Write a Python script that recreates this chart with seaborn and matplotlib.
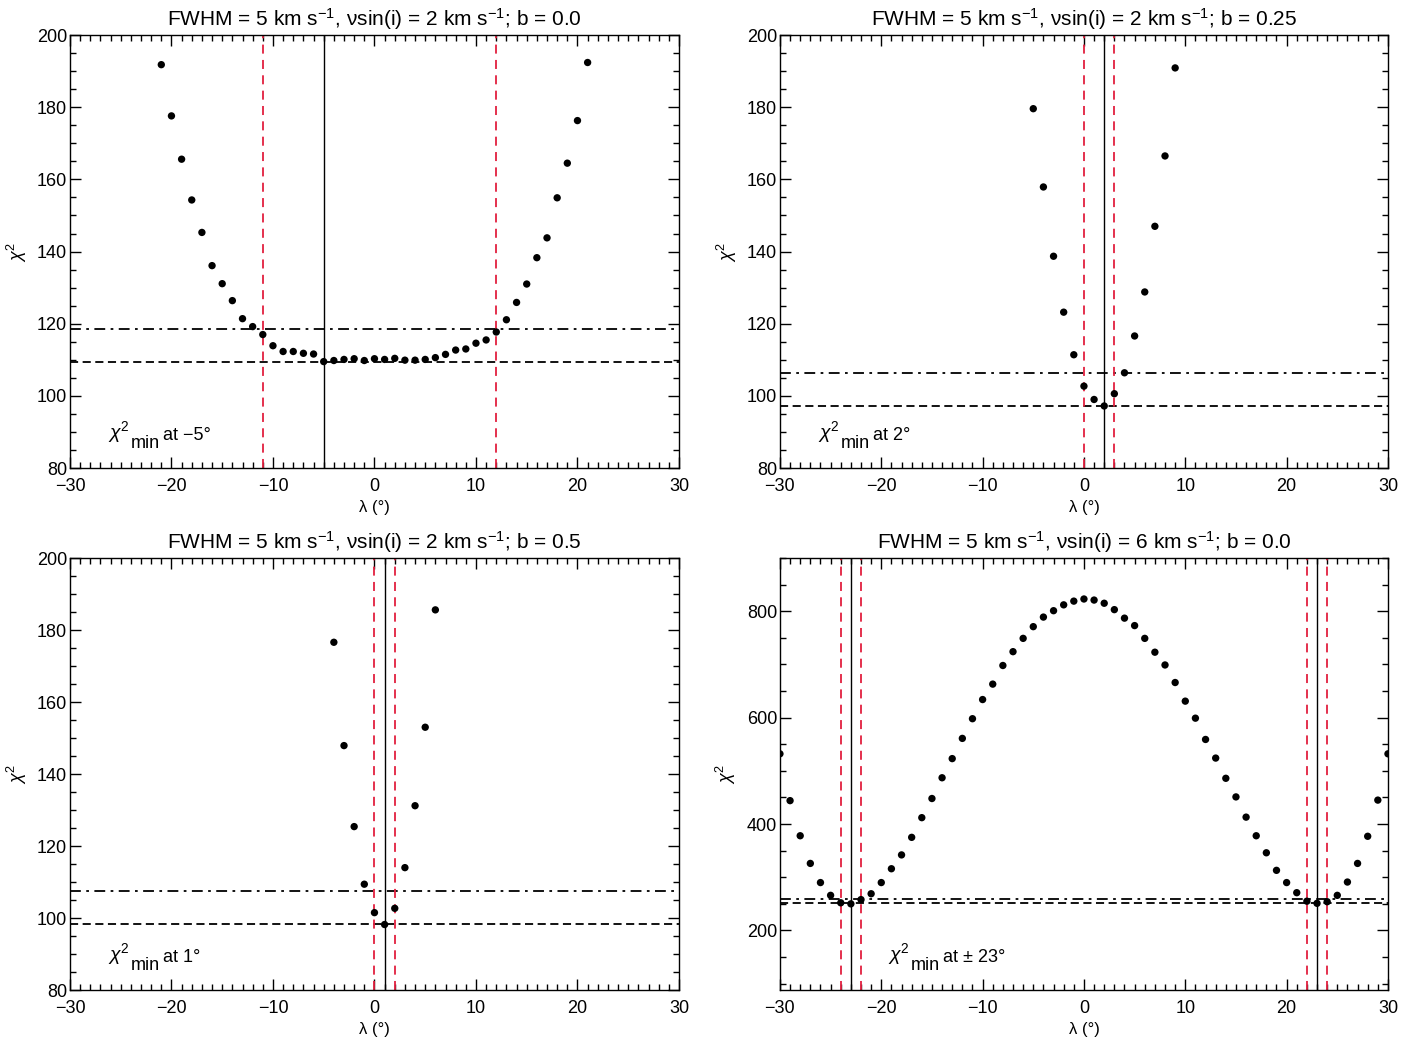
import numpy as np
import pandas as pd
import matplotlib
matplotlib.use('Agg')
import matplotlib.pyplot as plt
from matplotlib.ticker import MultipleLocator
import seaborn as sns

# lambda grids and chi^2 values
lam_a = list(range(-21, 22))
chi_a = [191.8, 177.6, 165.6, 154.3, 145.3, 136.1, 131.1, 126.4, 121.4, 119.2,
         117.0, 113.9, 112.3, 112.3, 111.8, 111.6, 109.5, 109.8, 110.1, 110.3,
         109.8, 110.3, 110.1, 110.4, 109.9, 109.9, 110.1, 110.6, 111.5, 112.7,
         113.0, 114.6, 115.5, 117.7, 121.1, 125.9, 131.0, 138.3, 143.8, 154.9,
         164.5, 176.3, 192.4]

lam_b = list(range(-5, 10))
chi_b = [179.6, 157.9, 138.7, 123.2, 111.4, 102.7, 99.0, 97.2, 100.6, 106.4,
         116.6, 128.8, 147.0, 166.5, 190.9]

lam_c = list(range(-4, 7))
chi_c = [176.6, 147.9, 125.4, 109.4, 101.5, 98.2, 102.7, 114.0, 131.2, 153.0, 185.6]

lam_d = list(range(-30, 31))
chi_d = [532, 444, 378, 326, 290, 266, 252, 250, 258, 269, 290, 316, 342, 375,
         412, 448, 487, 523, 561, 598, 634, 663, 698, 724, 749, 771, 789, 801,
         812, 819, 823, 821, 815, 803, 787, 773, 749, 723, 699, 666, 631, 599,
         559, 524, 486, 451, 413, 378, 346, 313, 290, 271, 255, 251, 254, 266,
         291, 326, 377, 445, 532]

titles = [
    r'FWHM = 5 km s$^{-1}$, νsin(i) = 2 km s$^{-1}$; b = 0.0',
    r'FWHM = 5 km s$^{-1}$, νsin(i) = 2 km s$^{-1}$; b = 0.25',
    r'FWHM = 5 km s$^{-1}$, νsin(i) = 2 km s$^{-1}$; b = 0.5',
    r'FWHM = 5 km s$^{-1}$, νsin(i) = 6 km s$^{-1}$; b = 0.0',
]
notes = ['at \u22125°', 'at 2°', 'at 1°', 'at \u00b1 23°']
best_lam = [[-5], [2], [1], [-23, 23]]
err_lam = [[-11, 12], [0, 3], [0, 2], [-24, -22, 22, 24]]
chi_min = [109.5, 97.2, 98.3, 251]
chi_lim = [118.5, 106.4, 107.4, 259]
ylims = [(80, 200), (80, 200), (80, 200), (88, 900)]
ymajor = [20, 20, 20, 200]
yminor = [5, 5, 5, 50]
note_x = [0.0625, 0.0625, 0.0625, 0.178]

sns.set_style('ticks')
plt.rcParams['font.family'] = ['Liberation Sans', 'DejaVu Sans']
plt.rcParams['mathtext.fontset'] = 'custom'
plt.rcParams['mathtext.rm'] = 'Liberation Sans'
plt.rcParams['mathtext.it'] = 'Liberation Sans:italic'
plt.rcParams['mathtext.default'] = 'rm'
for k in ['text.color', 'axes.labelcolor', 'xtick.color', 'ytick.color']:
    plt.rcParams[k] = 'black'

fig = plt.figure(figsize=(14.16, 10.38), dpi=100)
boxes = [[0.0494, 0.5491, 0.4301, 0.4171],
         [0.5508, 0.5491, 0.4294, 0.4171],
         [0.0494, 0.0462, 0.4301, 0.4162],
         [0.5508, 0.0462, 0.4294, 0.4162]]

data = [(lam_a, chi_a), (lam_b, chi_b), (lam_c, chi_c), (lam_d, chi_d)]
red = '#e2203f'

for i, (lam, chi) in enumerate(data):
    ax = fig.add_axes(boxes[i])
    df = pd.DataFrame({'lam': lam, 'chi': chi})
    sns.scatterplot(data=df, x='lam', y='chi', ax=ax, color='black', s=28,
                    edgecolor='none', zorder=5)
    ax.axhline(chi_lim[i], color='black', lw=1.3, ls=(0, (6, 3, 1.5, 3)))
    ax.axhline(chi_min[i], color='black', lw=1.3, ls=(0, (4.5, 2.5)))
    for v in best_lam[i]:
        ax.axvline(v, color='black', lw=1.0)
    for v in err_lam[i]:
        ax.axvline(v, color=red, lw=1.3, ls=(0, (5, 3.5)))
    ax.set_xlim(-30, 30)
    ax.set_ylim(*ylims[i])
    ax.xaxis.set_major_locator(MultipleLocator(10))
    ax.xaxis.set_minor_locator(MultipleLocator(1))
    ax.yaxis.set_major_locator(MultipleLocator(ymajor[i]))
    ax.yaxis.set_minor_locator(MultipleLocator(yminor[i]))
    ax.tick_params(which='both', direction='in', top=True, right=True,
                   labelsize=13, width=1, color='black')
    ax.tick_params(which='major', length=8)
    ax.tick_params(which='minor', length=4)
    ax.tick_params(axis='x', which='major', pad=7.5)
    ax.tick_params(axis='y', which='major', pad=2)
    for sp in ax.spines.values():
        sp.set_linewidth(1)
        sp.set_color('black')
    ax.set_xlabel('λ (°)', fontsize=12, labelpad=3)
    ax.set_ylabel(r'$\mathit{\chi}^{2}$', fontsize=13, labelpad=6)
    ax.set_title(titles[i], fontsize=15, pad=7)

    # chi^2_min label built from three pieces (IDL style)
    t1 = ax.text(note_x[i], 0.07, r'$\mathit{\chi}^{2}$', transform=ax.transAxes,
                 fontsize=14, ha='left', va='baseline')
    t2 = ax.annotate('min', xy=(1, 0), xycoords=t1, xytext=(0.5, -2.5),
                     textcoords='offset points', fontsize=13, ha='left',
                     va='baseline')
    ax.annotate(notes[i], xy=(1, 0), xycoords=t2, xytext=(2.5, 8.5),
                textcoords='offset points', fontsize=13, ha='left',
                va='baseline')

fig.savefig('out.png', dpi=100)
